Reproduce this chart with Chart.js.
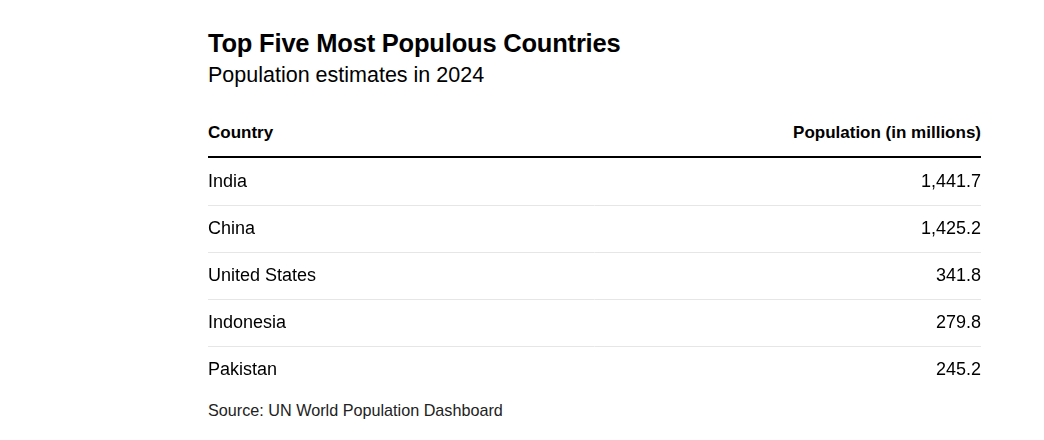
<!DOCTYPE html>
<html><head><meta charset="utf-8">
<script src="https://cdn.jsdelivr.net/npm/chart.js@4"></script>
<style>
body{margin:0;width:1044px;height:440px;background:#fff;font-family:"Liberation Sans",Arial,sans-serif;color:#000;position:relative;overflow:hidden}
#title{position:absolute;left:208px;top:29px;font-size:25.5px;font-weight:bold;letter-spacing:-0.2px}
#sub{position:absolute;left:208px;top:63px;font-size:21.5px}
#hdr{position:absolute;left:208px;top:123px;width:773px;font-size:17px;font-weight:bold;border-bottom:2px solid #000;height:33px}
#hdr span.r{position:absolute;right:0;top:0}
#clip{position:absolute;left:208px;top:158px;width:781px;height:230px;overflow:hidden}
#wrap{position:absolute;left:0;top:-10px;width:781px;height:256px}
#src{position:absolute;left:208px;top:401px;font-size:16.2px;color:#222}
</style></head><body>
<div id="title">Top Five Most Populous Countries</div>
<div id="sub">Population estimates in 2024</div>
<div id="hdr"><span>Country</span><span class="r">Population (in millions)</span></div>
<div id="clip"><div id="wrap"><canvas id="c"></canvas></div></div>
<div id="src">Source: UN World Population Dashboard</div>
<script>
const countries=["India","China","United States","Indonesia","Pakistan"];
const population=[1441.7,1425.2,341.8,279.8,245.2];
const valueLabels=population.map(v=>v.toLocaleString("en-US",{minimumFractionDigits:1,maximumFractionDigits:1}));
const font={family:"Liberation Sans",size:18};
new Chart(document.getElementById("c"),{
 type:"bar",
 data:{labels:countries,datasets:[{data:population,backgroundColor:"rgba(0,0,0,0)",yAxisID:"y"}]},
 options:{indexAxis:"y",responsive:true,maintainAspectRatio:false,animation:false,
  layout:{padding:0},
  plugins:{legend:{display:false},tooltip:{enabled:false}},
  scales:{
   x:{display:false,min:0,max:1500},
   y:{type:"category",position:"left",offset:true,
      grid:{offset:true,drawTicks:false,color:c=>(c.index===0)?"rgba(0,0,0,0)":"#e6e6e6"},
      border:{display:false},
      ticks:{mirror:true,padding:0,color:"#000",font:font,z:1}},
   y2:{type:"category",labels:valueLabels,position:"right",offset:true,
      grid:{display:false},border:{display:false},
      ticks:{mirror:true,padding:0,color:"#000",font:font,z:1}}
  }}
});
</script>
</body></html>
